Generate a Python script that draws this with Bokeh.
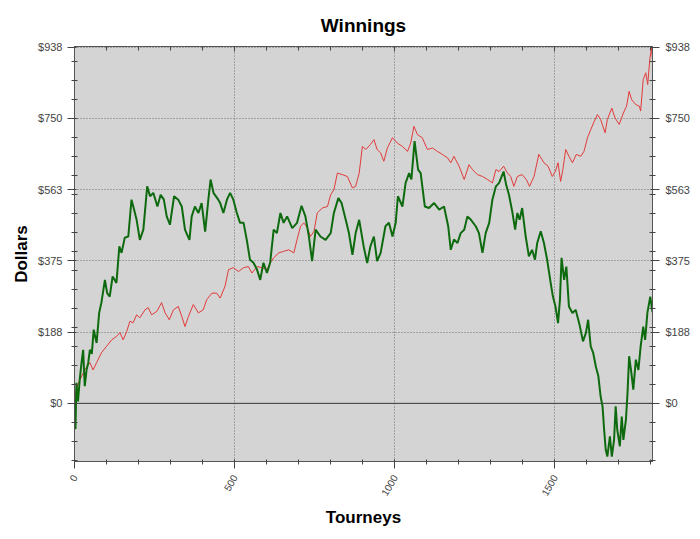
from bokeh.plotting import figure
from bokeh.models import FixedTicker, LinearAxis, Span, Range1d
from bokeh.embed import file_html
from bokeh.resources import INLINE

title_text = "Winnings"
x_label = "Tourneys"
y_label = "Dollars"
x_ticks = [0, 500, 1000, 1500]
x_minor = [100 * i for i in range(19)]
y_ticks = [0, 187.5, 375, 562.5, 750, 937.5]
y_tick_labels = ["$0", "$188", "$375", "$563", "$750", "$938"]
y_minor = [-150 + 50 * i for i in range(22)]

green_t = [0, 3, 6, 11, 16, 22, 27, 32, 38, 43, 48, 54, 60, 69, 77, 84, 95, 102, 110, 119,
           131, 140, 147, 157, 168, 178, 186, 194, 204, 215, 227, 236, 246, 259, 269, 279,
           288, 298, 311, 324, 335, 345, 359, 366, 376, 387, 397, 408, 418, 425, 434, 449,
           455, 465, 476, 486, 496, 507, 517, 528, 538, 548, 559, 570, 580, 590, 601, 611,
           622, 632, 643, 653, 664, 680, 695, 709, 721, 732, 742, 753, 768, 784, 800, 810,
           824, 834, 847, 857, 868, 878, 889, 903, 914, 924, 935, 945, 956, 971, 982, 993,
           1003, 1010, 1024, 1034, 1045, 1052, 1062, 1073, 1081, 1094, 1107, 1123, 1139,
           1154, 1167, 1175, 1185, 1196, 1206, 1217, 1227, 1238, 1253, 1263, 1274, 1284,
           1295, 1305, 1316, 1326, 1340, 1348, 1357, 1367, 1376, 1383, 1390, 1398, 1409,
           1419, 1429, 1438, 1445, 1456, 1466, 1476, 1487, 1494, 1502, 1510, 1516, 1521,
           1529, 1536, 1544, 1555, 1565, 1576, 1588, 1597, 1604, 1612, 1620, 1628, 1636,
           1643, 1649, 1654, 1659, 1664, 1672, 1678, 1685, 1690, 1695, 1703, 1709, 1714,
           1722, 1727, 1732, 1739, 1745, 1753, 1761, 1768, 1776, 1782, 1789, 1798, 1805]
green_v = [-35, -68, 54, 5, 60, 107, 141, 45, 90, 107, 141, 130, 194, 159, 238, 265, 325, 290, 281, 334,
           317, 413, 396, 436, 439, 536, 510, 483, 430, 457, 571, 545, 554, 518, 549, 536,
           492, 470, 545, 536, 518, 457, 430, 492, 518, 501, 527, 452, 536, 589, 554, 536,
           527, 501, 536, 554, 536, 501, 475, 475, 430, 378, 370, 352, 325, 370, 343, 370,
           457, 448, 501, 475, 492, 461, 475, 520, 492, 439, 374, 457, 439, 430, 448, 501,
           540, 527, 483, 448, 391, 448, 483, 413, 369, 413, 439, 374, 396, 466, 475, 439,
           475, 545, 518, 580, 606, 589, 690, 615, 606, 518, 514, 527, 510,
           518, 466, 404, 431, 422, 448, 457, 492, 483, 466, 448, 396, 448,
           475, 536, 571, 580, 610, 575, 548, 505, 457, 501, 483, 514, 439,
           387, 404, 378, 422, 453, 422, 378, 317, 281, 255, 211, 273, 383,
           325, 360, 255, 238, 246, 211, 163, 185, 220, 150, 132, 97, 71,
           18, -8, -70, -122, -140, -87, -140, -96, -8, -70, -113, -35, -96,
           -43, 27, 124, 80, 36, 115, 88, 150, 202, 167, 238, 281, 240]

red_t = [0, 6, 17, 32, 48, 58, 69, 84, 100, 116, 131, 142, 152, 163, 173, 183, 194, 204,
         220, 230, 241, 257, 272, 283, 296, 309, 324, 335, 345, 356, 371, 387, 402, 413,
         429, 444, 455, 470, 481, 496, 512, 528, 543, 554, 570, 585, 601, 611, 622, 638,
         653, 669, 685, 695, 706, 716, 727, 737, 748, 758, 774, 790, 800, 810, 821, 836,
         852, 868, 878, 889, 899, 910, 924, 935, 945, 956, 966, 977, 993, 1008, 1024,
         1040, 1050, 1060, 1071, 1086, 1102, 1118, 1133, 1149, 1165, 1175, 1185, 1201,
         1217, 1232, 1243, 1258, 1274, 1290, 1305, 1316, 1326, 1340, 1352, 1362, 1372,
         1383, 1398, 1411, 1421, 1435, 1450, 1466, 1479, 1492, 1502, 1510, 1518, 1525,
         1534, 1544, 1555, 1567, 1581, 1591, 1602, 1612, 1623, 1633, 1643, 1657, 1664,
         1678, 1688, 1701, 1714, 1724, 1732, 1740, 1753, 1764, 1768, 1776, 1784, 1790,
         1797, 1802, 1805]
red_v = [0, 40, 62, 88, 107, 88, 107, 133, 150, 167, 176, 186, 167, 189, 216, 212, 233, 225,
         246, 252, 233, 242, 265, 238, 220, 246, 255, 229, 202, 229, 260, 238, 246, 273,
         290, 290, 277, 308, 352, 357, 347, 357, 360, 343, 360, 357, 352, 369, 383, 396,
         400, 404, 396, 431, 466, 475, 462, 439, 453, 501, 514, 518, 549, 562, 606, 602,
         597, 567, 571, 606, 676, 668, 681, 694, 668, 659, 637, 672, 699, 685, 676,
         663, 685, 729, 707, 699, 668, 672, 663, 655, 646, 633, 650, 624,
         589, 628, 615, 602, 597, 589, 580, 615, 610, 624, 606, 597, 571,
         597, 602, 589, 571, 597, 655, 633, 624, 597, 611, 633, 584, 615,
         668, 650, 633, 655, 650, 663, 699, 720, 742, 760, 747, 712, 747,
         777, 751, 734, 764, 782, 821, 799, 786, 782, 769, 852, 870, 839,
         909, 935, 905]

FONT = "Liberation Sans"

p = figure(width=692, height=531, output_backend="svg", toolbar_location=None,
           x_range=Range1d(0, 1805), y_range=Range1d(-153, 939),
           min_border_left=74, min_border_right=40, min_border_top=46, min_border_bottom=70,
           background_fill_color="#d4d4d4", border_fill_color="white")

p.title.text = title_text
p.title.align = "center"
p.title.text_font = FONT
p.title.text_font_size = "19px"
p.title.text_font_style = "bold"
p.title.text_color = "black"
p.title.standoff = 22

p.outline_line_color = "#555555"

xt = FixedTicker(ticks=x_ticks, minor_ticks=x_minor)
yt = FixedTicker(ticks=y_ticks, minor_ticks=y_minor)
y_over = {t: l for t, l in zip(y_ticks, y_tick_labels)}


def style_axis(ax):
    ax.axis_line_color = "#555555"
    ax.major_tick_line_color = "#444444"
    ax.minor_tick_line_color = "#444444"
    ax.major_label_text_font = FONT
    ax.major_label_text_font_size = "11px"
    ax.major_label_text_color = "#444444"
    ax.axis_label_text_font = FONT
    ax.axis_label_text_font_size = "17px"
    ax.axis_label_text_font_style = "bold"
    ax.axis_label_text_color = "black"


# bottom
xa = p.xaxis[0]
xa.ticker = xt
style_axis(xa)
xa.axis_label = x_label
xa.major_label_text_font_size = "10px"
xa.major_tick_out = 7
xa.major_tick_in = 2
xa.minor_tick_out = 3
xa.minor_tick_in = 2
xa.major_label_orientation = 1.05
xa.major_label_standoff = 7
xa.axis_label_standoff = 6

# left
ya = p.yaxis[0]
ya.ticker = yt
style_axis(ya)
ya.axis_label = y_label
ya.major_label_overrides = y_over
ya.major_tick_out = 7
ya.major_tick_in = 2
ya.minor_tick_out = 3
ya.minor_tick_in = 3
ya.major_label_standoff = 5
ya.axis_label_standoff = 4

# right
ra = LinearAxis(ticker=yt, major_label_overrides=y_over)
style_axis(ra)
ra.major_tick_out = 7
ra.major_tick_in = 2
ra.minor_tick_out = 3
ra.minor_tick_in = 3
ra.major_label_standoff = 6
p.add_layout(ra, "right")

# top (ticks only)
ta = LinearAxis(ticker=xt, major_label_overrides={t: "" for t in x_ticks})
style_axis(ta)
ta.major_label_text_font_size = "1px"
ta.major_label_standoff = 0
ta.major_tick_out = 0
ta.major_tick_in = 5
ta.minor_tick_out = 0
ta.minor_tick_in = 4
p.add_layout(ta, "above")

p.xgrid.ticker = FixedTicker(ticks=x_ticks[1:])
p.ygrid.ticker = FixedTicker(ticks=y_ticks[1:])
for g in (p.xgrid[0], p.ygrid[0]):
    g.grid_line_color = "#6e6e6e"
    g.grid_line_dash = "1 2"
    g.grid_line_width = 1

zero = Span(location=0, dimension="width", line_color="#333333", line_width=1, level="underlay")
p.add_layout(zero)

p.line(red_t, red_v, line_color="#e23a3a", line_width=1)
p.line(green_t, green_v, line_color="#0e6a0e", line_width=2)

open("out.html", "w").write(file_html(p, INLINE))
